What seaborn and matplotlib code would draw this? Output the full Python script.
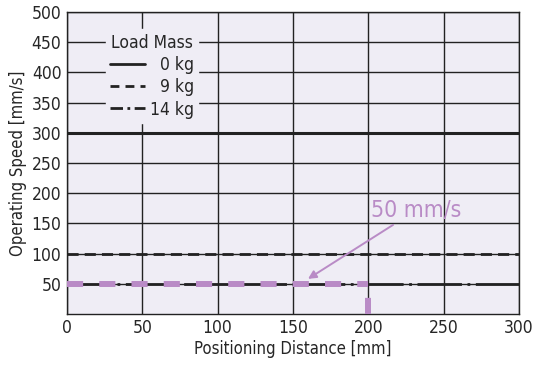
import matplotlib.pyplot as plt
import pandas as pd
import seaborn as sns
from matplotlib.lines import Line2D

# Chart data
load_labels = ["0 kg", "9 kg", "14 kg"]
max_speed = [300, 100, 50]          # mm/s, constant over the range
distance_range = [0, 300]           # mm

# Highlighted operating point
point_speed = 50
point_distance = 200

x_ticks = [0, 50, 100, 150, 200, 250, 300]
y_ticks = [50, 100, 150, 200, 250, 300, 350, 400, 450, 500]

purple = "#b98bc6"
bg = "#efedf5"
ink = "#222222"

line_dashes = {"0 kg": None, "9 kg": (4, 2.2), "14 kg": (16, 2, 1, 2)}
legend_dashes = {"0 kg": None, "9 kg": (3.2, 2.2), "14 kg": (4.5, 1.6, 1, 1.6)}

sns.set_style("white")
plt.rcParams["font.family"] = ["DejaVu Sans"]
plt.rcParams["font.stretch"] = "condensed"

fig, ax = plt.subplots(figsize=(5.36, 3.65), dpi=100)
ax.set_facecolor(bg)

for lab, spd in zip(load_labels, max_speed):
    d = pd.DataFrame({"distance": distance_range, "speed": [spd] * len(distance_range)})
    sns.lineplot(data=d, x="distance", y="speed", color=ink,
                 linewidth=2.2 if lab == "0 kg" else 2, ax=ax, zorder=3)
    if line_dashes[lab]:
        ax.lines[-1].set_dashes(line_dashes[lab])

# highlighted 50 mm/s up to 200 mm
hl = pd.DataFrame({"distance": [0, point_distance], "speed": [point_speed, point_speed]})
sns.lineplot(data=hl, x="distance", y="speed", color=purple, linewidth=4.3, ax=ax, zorder=4)
ax.lines[-1].set_dashes((2.7, 2.7))
ax.lines[-1].set_dash_capstyle("butt")
ax.plot([point_distance, point_distance], [0, point_speed], color=purple,
        linewidth=4.3, dashes=(2.7, 2.7), dash_capstyle="butt", zorder=4)

ax.annotate("50 mm/s", xy=(160, 58), xytext=(202, 172), color=purple,
            fontsize=16.5, va="center", ha="left",
            arrowprops=dict(arrowstyle="-|>", color=purple, lw=1.4,
                            mutation_scale=12, shrinkA=0, shrinkB=0),
            zorder=5)

ax.set_xlim(0, 300)
ax.set_ylim(0, 500)
ax.set_xticks(x_ticks)
ax.set_yticks(y_ticks)
ax.grid(True, color=ink, linewidth=1)
ax.set_axisbelow(True)
ax.tick_params(length=0, labelsize=12.5, pad=4)
for s in ax.spines.values():
    s.set_color(ink)
    s.set_linewidth(1)

ax.set_xlabel("Positioning Distance [mm]", fontsize=12, labelpad=2)
ax.set_ylabel("Operating Speed [mm/s]", fontsize=12, labelpad=3)

handles = []
for l in load_labels:
    h = Line2D([], [], color=ink, lw=2)
    if legend_dashes[l]:
        h.set_dashes(legend_dashes[l])
    handles.append(h)
# pad short labels with a figure space so the texts line up on the right
width = max(len(l) for l in load_labels)
shown = ["\u2007" * (width - len(l)) + l for l in load_labels]
leg = ax.legend(handles, shown, title="Load Mass", loc="upper left",
                bbox_to_anchor=(0.066, 0.972), frameon=True, fontsize=12.5,
                title_fontsize=12.5, handlelength=2.0, handletextpad=0.3,
                borderpad=0.25, labelspacing=0.25, alignment="center")
leg.get_frame().set_facecolor(bg)
leg.get_frame().set_edgecolor(bg)
leg.get_frame().set_alpha(1)
leg.get_frame().set_boxstyle("square", pad=0)

fig.subplots_adjust(left=0.125, right=0.968, top=0.967, bottom=0.14)
fig.savefig("out.png", dpi=100)
